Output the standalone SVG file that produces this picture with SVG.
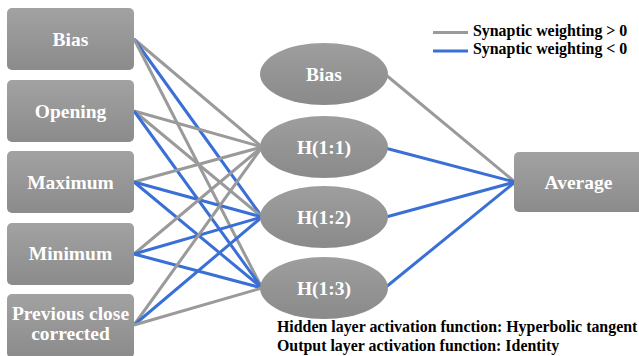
<svg xmlns="http://www.w3.org/2000/svg" width="639" height="356" viewBox="0 0 639 356">
<defs>
<linearGradient id="gBox" x1="0" y1="0" x2="0" y2="1">
<stop offset="0" stop-color="#a2a2a2"/>
<stop offset="1" stop-color="#8b8b8b"/>
</linearGradient>
<linearGradient id="gEl" x1="0" y1="0" x2="0" y2="1">
<stop offset="0" stop-color="#9e9e9e"/>
<stop offset="1" stop-color="#8a8a8a"/>
</linearGradient>
</defs>
<style>
.box{fill:url(#gBox);}
.el{fill:url(#gEl);}
.lbl{font-family:"Liberation Serif","Times New Roman",serif;font-weight:bold;font-size:19.5px;fill:#ffffff;text-anchor:middle;}
.txt{font-family:"Liberation Serif","Times New Roman",serif;font-weight:bold;font-size:15.9px;fill:#000000;}
.pos{stroke:#9a9a9a;stroke-width:3;fill:none;}
.neg{stroke:#3a6fd6;stroke-width:3;fill:none;}
</style>
<rect width="639" height="356" fill="#ffffff"/>
<g id="connectors">
<line class="pos" x1="134" y1="39" x2="262" y2="147"/>
<line class="neg" x1="134" y1="39" x2="262" y2="217"/>
<line class="pos" x1="134" y1="39" x2="262" y2="288"/>
<line class="pos" x1="134" y1="111" x2="262" y2="147"/>
<line class="pos" x1="134" y1="111" x2="262" y2="217"/>
<line class="neg" x1="134" y1="111" x2="262" y2="288"/>
<line class="pos" x1="134" y1="182" x2="262" y2="147"/>
<line class="neg" x1="134" y1="182" x2="262" y2="217"/>
<line class="neg" x1="134" y1="182" x2="262" y2="288"/>
<line class="pos" x1="134" y1="254" x2="262" y2="147"/>
<line class="neg" x1="134" y1="254" x2="262" y2="217"/>
<line class="neg" x1="134" y1="254" x2="262" y2="288"/>
<line class="pos" x1="134" y1="325" x2="262" y2="147"/>
<line class="neg" x1="134" y1="325" x2="262" y2="217"/>
<line class="pos" x1="134" y1="325" x2="262" y2="288"/>
<line class="pos" x1="386" y1="75" x2="515" y2="182"/>
<line class="neg" x1="385" y1="148" x2="515" y2="182"/>
<line class="neg" x1="386" y1="217" x2="515" y2="182"/>
<line class="neg" x1="386" y1="287" x2="515" y2="182"/>
</g>
<g id="in-bias"><rect class="box" x="7" y="8" width="127" height="62" rx="5"/><text class="lbl" x="70.5" y="45.5">Bias</text></g>
<g id="in-opening"><rect class="box" x="7" y="80" width="127" height="62" rx="5"/><text class="lbl" x="70.5" y="117.5">Opening</text></g>
<g id="in-maximum"><rect class="box" x="7" y="151" width="127" height="62" rx="5"/><text class="lbl" x="70.5" y="188.5">Maximum</text></g>
<g id="in-minimum"><rect class="box" x="7" y="223" width="127" height="62" rx="5"/><text class="lbl" x="70.5" y="260">Minimum</text></g>
<g id="in-prev"><rect class="box" x="7" y="294" width="127" height="64" rx="5"/><text class="lbl" x="70.5" y="320">Previous close</text><text class="lbl" x="70.5" y="340">corrected</text></g>
<g id="h-bias"><ellipse class="el" cx="324" cy="74" rx="64" ry="31"/><text class="lbl" x="324" y="80.5">Bias</text></g>
<g id="h11"><ellipse class="el" cx="324" cy="147" rx="64" ry="31"/><text class="lbl" x="324" y="153.5">H(1:1)</text></g>
<g id="h12"><ellipse class="el" cx="324" cy="217" rx="64" ry="31"/><text class="lbl" x="324" y="223.5">H(1:2)</text></g>
<g id="h13"><ellipse class="el" cx="324" cy="288" rx="64" ry="31"/><text class="lbl" x="324" y="294.5">H(1:3)</text></g>
<g id="out-average"><rect class="box" x="514" y="152" width="130" height="60" rx="5"/><text class="lbl" x="578.5" y="188.5">Average</text></g>
<g id="legend">
<line class="pos" x1="433" y1="32.5" x2="468" y2="32.5"/>
<line class="neg" x1="433" y1="51" x2="468" y2="51"/>
<text class="txt" x="473" y="36">Synaptic weighting &gt; 0</text>
<text class="txt" x="473" y="54">Synaptic weighting &lt; 0</text>
</g>
<g id="notes">
<text class="txt" x="277" y="332">Hidden layer activation function: Hyperbolic tangent</text>
<text class="txt" x="277" y="351">Output layer activation function: Identity</text>
</g>
</svg>
